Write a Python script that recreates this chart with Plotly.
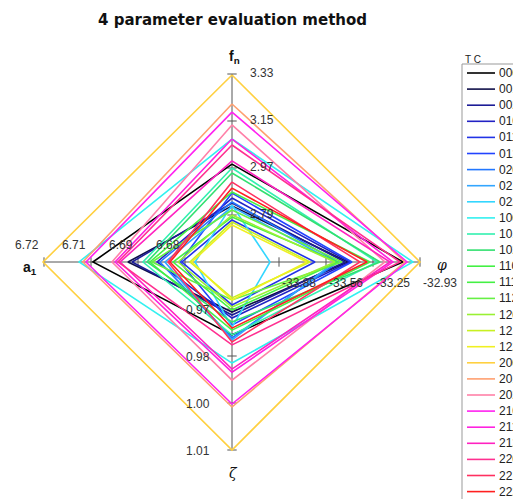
import plotly.graph_objects as go

# ---------------- data ----------------
title_text = "4 parameter evaluation method"
legend_title = "T C"

codes = ["000", "001", "002", "010", "011", "012", "020", "021", "022",
         "100", "101", "102", "110", "111", "112", "120", "121", "122",
         "200", "201", "202", "210", "211", "212", "220", "221", "222"]

colors = ["#000000", "#10104a", "#1c1c96", "#2222c4", "#2233e6", "#2244ff",
          "#2277ff", "#33a6ff", "#33d6ff", "#33f0f0", "#33f0b0", "#33e070",
          "#44f044", "#44f044", "#66f044", "#99f033", "#c8f022", "#f0f022",
          "#ffd040", "#ffa070", "#ff80a8", "#ff22f0", "#ff22e0", "#ff22c0",
          "#ff3090", "#ff3060", "#ff2020"]

fn_vals = [2.985, 2.825, 2.836, 2.855, 2.771, 2.874, 2.840, 2.821, 2.828,
           3.081, 2.970, 2.951, 2.878, 2.782, 2.809, 2.790, 2.763, 2.752,
           3.326, 3.215, 3.135, 3.184, 3.081, 2.997, 3.058, 2.916, 2.893]

phi_vals = [-33.044, -33.413, -33.433, -33.399, -33.634, -33.386, -33.480, -33.500, -33.935,
            -32.977, -33.218, -33.198, -33.265, -33.480, -33.453, -33.500, -33.667, -33.687,
            -32.930, -33.031, -33.165, -33.017, -33.111, -33.131, -33.064, -33.332, -33.285]

zeta_vals = [0.9777, 0.9709, 0.9718, 0.9727, 0.9688, 0.9748, 0.9786, 0.9792, 0.9754,
             0.9861, 0.9777, 0.9739, 0.9763, 0.9703, 0.9673, 0.9694, 0.9667, 0.9673,
             1.0120, 0.9992, 0.9912, 0.9983, 0.9888, 0.9879, 0.9807, 0.9798, 0.9757]

a1_vals = [6.7069, 6.6957, 6.6944, 6.6864, 6.6785, 6.6791, 6.6855, 6.6839, 6.6743,
           6.7113, 6.6909, 6.6896, 6.6887, 6.6813, 6.6880, 6.6797, 6.6759, 6.6753,
           6.7228, 6.7101, 6.7008, 6.7091, 6.6998, 6.6982, 6.6989, 6.6829, 6.6823]

# axis scales: value at centre and value per tick step
FN_C, FN_S = 2.61, 0.18
PHI_C, PHI_S = -34.19, 0.315
ZETA_C, ZETA_S = 0.956, 0.014
A1_C, A1_S = 6.6625, 0.015

fn_ticks = ["2.79", "2.97", "3.15", "3.33"]
phi_ticks = ["-33.88", "-33.56", "-33.25", "-32.93"]
zeta_ticks = ["0.97", "0.98", "1.00", "1.01"]
a1_ticks = ["6.68", "6.69", "6.71", "6.72"]

# ---------------- layout geometry ----------------
W, H = 513, 499
CX, CY, U = 232, 262, 47.0   # centre (px) and px per tick step


def px(x):
    return x / W


def py(y):
    return 1 - y / H


fig = go.Figure()

for i, code in enumerate(codes):
    u_fn = (fn_vals[i] - FN_C) / FN_S
    u_phi = (phi_vals[i] - PHI_C) / PHI_S
    u_z = (zeta_vals[i] - ZETA_C) / ZETA_S
    u_a = (a1_vals[i] - A1_C) / A1_S
    fig.add_trace(go.Scatter(
        x=[0, u_phi, 0, -u_a, 0],
        y=[u_fn, 0, -u_z, 0, u_fn],
        mode="lines", name=code,
        line=dict(color=colors[i], width=1.6),
        hoverinfo="name", showlegend=False))

shapes = []
axis_col = "#555555"
shapes.append(dict(type="line", xref="x", yref="y", x0=-4, x1=4, y0=0, y1=0,
                   line=dict(color=axis_col, width=1), layer="below"))
shapes.append(dict(type="line", xref="x", yref="y", x0=0, x1=0, y0=-4, y1=4,
                   line=dict(color=axis_col, width=1), layer="below"))
t = 0.1
for k in range(1, 5):
    for sgn in (1, -1):
        shapes.append(dict(type="line", xref="x", yref="y", x0=-t, x1=t, y0=sgn * k, y1=sgn * k,
                           line=dict(color=axis_col, width=1), layer="below"))
        shapes.append(dict(type="line", xref="x", yref="y", x0=sgn * k, x1=sgn * k, y0=-t, y1=t,
                           line=dict(color=axis_col, width=1), layer="below"))

annotations = []
tick_font = dict(family="Arial", size=12, color="#333333")
for k in range(1, 5):
    annotations.append(dict(x=0.33, y=k + 0.02, xref="x", yref="y", text=fn_ticks[k - 1],
                            showarrow=False, xanchor="left", yanchor="middle", font=tick_font))
    annotations.append(dict(x=-k - 0.06, y=0.36, xref="x", yref="y", text=a1_ticks[k - 1],
                            showarrow=False, xanchor="right", yanchor="middle", font=tick_font))
    annotations.append(dict(x=k + 0.02, y=-0.45, xref="x", yref="y", text=phi_ticks[k - 1],
                            showarrow=False, xanchor="left", yanchor="middle", font=tick_font))
    annotations.append(dict(x=-0.42, y=-k - 0.02, xref="x", yref="y", text=zeta_ticks[k - 1],
                            showarrow=False, xanchor="right", yanchor="middle", font=tick_font))


def label(x, y, text, font, xanchor="center"):
    return dict(x=px(x), y=py(y), xref="paper", yref="paper", text=text, showarrow=False,
                xanchor=xanchor, yanchor="middle", font=font)


# axis names
annotations.append(label(234, 57, "<b>f<sub>n</sub></b>",
                         dict(family="Arial", size=14, color="#111111")))
annotations.append(label(30, 268, "<b>a<sub>1</sub></b>",
                         dict(family="Arial", size=14, color="#111111")))
annotations.append(label(442, 265, "<i>φ</i>",
                         dict(family="DejaVu Serif", size=14, color="#111111")))
annotations.append(label(233, 473, "<i>ζ</i>",
                         dict(family="DejaVu Serif", size=14, color="#111111")))

# title
annotations.append(label(232, 20, "<b>" + title_text + "</b>",
                         dict(family="DejaVu Sans", size=15, color="#111111")))

# legend (drawn manually, running off the right/bottom edge like the original)
annotations.append(label(473, 59, legend_title, dict(family="Arial", size=10, color="#222222")))
shapes.append(dict(type="rect", xref="paper", yref="paper",
                   x0=px(462), x1=px(540), y0=py(64), y1=py(520),
                   line=dict(color="#999999", width=1), fillcolor="rgba(0,0,0,0)"))
for i, code in enumerate(codes):
    yy = 73 + 16.1 * i
    shapes.append(dict(type="line", xref="paper", yref="paper",
                       x0=px(467), x1=px(495), y0=py(yy), y1=py(yy),
                       line=dict(color=colors[i], width=1.6)))
    annotations.append(label(497, yy, code, dict(family="Arial", size=12, color="#222222"),
                             xanchor="left"))

fig.update_layout(
    width=W, height=H,
    margin=dict(l=0, r=0, t=0, b=0),
    paper_bgcolor="white", plot_bgcolor="white",
    showlegend=False,
    xaxis=dict(range=[-CX / U, (W - CX) / U], visible=False, fixedrange=True),
    yaxis=dict(range=[-(H - CY) / U, CY / U], visible=False, fixedrange=True),
    shapes=shapes, annotations=annotations,
)

fig.write_html("out.html",
               config={"displayModeBar": False},
               post_script="document.body.style.margin='0';"
                           "document.body.style.overflow='hidden';")
